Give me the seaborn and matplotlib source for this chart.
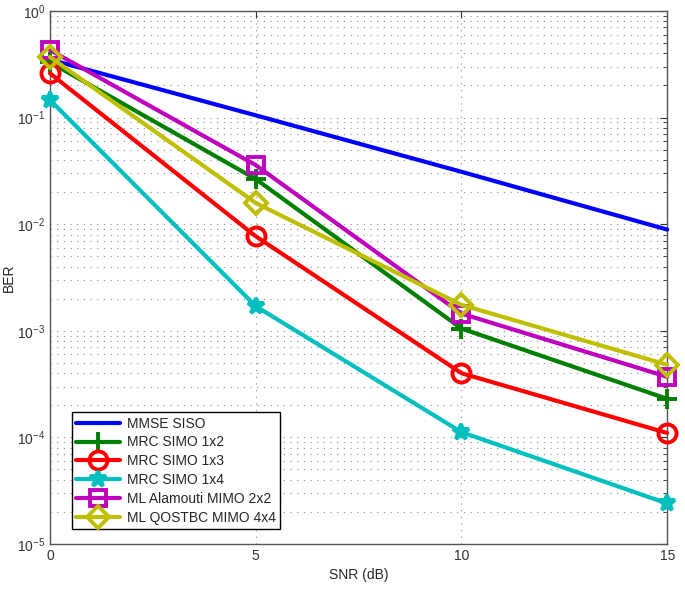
import numpy as np
import pandas as pd
import matplotlib
matplotlib.use('Agg')
import matplotlib.pyplot as plt
import seaborn as sns
from matplotlib.ticker import LogLocator, NullFormatter

snr = [0, 5, 10, 15]
mmse_siso = [0.35, 0.105, 0.031, 0.0089]
mrc_1x2 = [0.33, 0.0265, 0.00105, 0.00023]
mrc_1x3 = [0.26, 0.0077, 0.00040, 0.00011]
mrc_1x4 = [0.146, 0.0017, 0.000112, 0.000024]
alamouti_2x2 = [0.43, 0.0358, 0.00145, 0.00037]
qostbc_4x4 = [0.37, 0.0158, 0.00175, 0.00048]

labels = ['MMSE SISO', 'MRC SIMO 1x2', 'MRC SIMO 1x3', 'MRC SIMO 1x4',
          'ML Alamouti MIMO 2x2', 'ML QOSTBC MIMO 4x4']
series = [mmse_siso, mrc_1x2, mrc_1x3, mrc_1x4, alamouti_2x2, qostbc_4x4]
colors = ['#0000ff', '#007f00', '#ff0000', '#00bfbf', '#bf00bf', '#bfbf00']
markers = [None, '+', 'o', '*', 's', 'D']
msizes = [0, 14, 13, 12, 11, 11]

sns.set_style('white')
plt.rcParams['font.family'] = ['Liberation Sans', 'DejaVu Sans']

fig = plt.figure(figsize=(6.85, 5.89), dpi=100)
ax = fig.add_axes([0.073, 0.0764, 0.901, 0.905])

for lab, vals, c, m, ms in zip(labels, series, colors, markers, msizes):
    df = pd.DataFrame({'SNR': snr, 'BER': vals})
    kw = {}
    if m is not None:
        kw = dict(marker=m, markersize=ms, markeredgewidth=2.8,
                  markerfacecolor='none' if m in ('o', 's', 'D') else c,
                  markeredgecolor=c)
    sns.lineplot(data=df, x='SNR', y='BER', ax=ax, color=c, linewidth=3,
                 label=lab, clip_on=False, zorder=3, **kw)

ax.set_yscale('log')
ax.set_xlim(0, 15)
ax.set_ylim(1e-5, 1)
ax.set_xticks([0, 5, 10, 15])
ax.yaxis.set_major_locator(LogLocator(base=10, numticks=10))
ax.yaxis.set_minor_locator(LogLocator(base=10, subs=np.arange(2, 10), numticks=10))
ax.yaxis.set_minor_formatter(NullFormatter())
ax.tick_params(which='both', direction='in', top=True, right=True,
               labelsize=10, colors='#333333')
ax.tick_params(which='major', length=5)
ax.tick_params(which='minor', length=3)
grid_style = dict(linestyle=(0, (1, 5)), color='#8a8a8a', linewidth=0.8)
ax.grid(True, which='major', axis='both', **grid_style)
ax.grid(True, which='minor', axis='y', **grid_style)
for s in ax.spines.values():
    s.set_color('#555555')
    s.set_linewidth(1)
    s.set_zorder(2)

ax.set_xlabel('SNR (dB)', fontsize=10, labelpad=4)
ax.set_ylabel('BER', fontsize=10)
ax.yaxis.set_label_coords(-0.055, 0.5)

leg = ax.legend(loc='lower left', bbox_to_anchor=(0.035, 0.028), fontsize=10,
                frameon=True, fancybox=False, edgecolor='black', framealpha=1,
                handlelength=3.2, borderpad=0.3, labelspacing=0.35,
                handletextpad=0.5, borderaxespad=0)
leg.get_frame().set_linewidth(1)
leg.set_zorder(5)

fig.savefig('out.png', dpi=100)
